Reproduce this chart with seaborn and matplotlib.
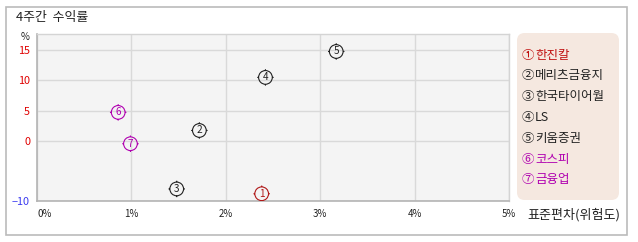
import numpy as np
import pandas as pd
import seaborn as sns
import matplotlib
matplotlib.use("Agg")
import matplotlib.pyplot as plt
from matplotlib.path import Path
from matplotlib.patches import FancyBboxPatch, Rectangle

# ---- data ----
labels = ["①", "②", "③", "④", "⑤", "⑥", "⑦"]
digits = ["1", "2", "3", "4", "5", "6", "7"]
names = ["한진칼", "메리츠금융지", "한국타이어월", "LS", "키움증권", "코스피", "금융업"]
risk = [2.38, 1.72, 1.48, 2.42, 3.17, 0.86, 0.99]       # 표준편차 (%)
ret = [-8.8, 1.7, -8.0, 10.5, 14.8, 4.7, -0.5]          # 4주간 수익률 (%)
colors = ["#B01818", "#222222", "#222222", "#222222", "#222222", "#B000B0", "#B000B0"]
legend_text_colors = ["#C01010", "#222222", "#222222", "#222222", "#222222", "#B000B0", "#B000B0"]
xticks = [0, 1, 2, 3, 4, 5]
xticklabels = ["0%", "1%", "2%", "3%", "4%", "5%"]
yticks = [-10, 0, 5, 10, 15]
yticklabels = ["−10", "0", "5", "10", "15"]
ytick_colors = ["#3A3AF0", "#E00000", "#E00000", "#E00000", "#E00000"]

sns.set_style("white")
plt.rcParams["font.family"] = ["Noto Sans CJK KR", "DejaVu Sans"]

W, H = 638, 242
fig = plt.figure(figsize=(W / 100, H / 100), dpi=100)

# outer frame
fig.patches.append(Rectangle((6 / W, 1 - 235 / H), (627 - 6) / W, (235 - 7) / H,
                             transform=fig.transFigure, fill=False,
                             edgecolor="#BBBBBB", linewidth=1.2))

fig.text(16 / W, 1 - 18 / H, "4주간  수익률", fontsize=9.3, color="#222222",
         va="center", ha="left")

left, right, top, bottom = 37, 509, 34, 201
ax = fig.add_axes([left / W, 1 - bottom / H, (right - left) / W, (bottom - top) / H])
ax.set_facecolor("#F4F4F4")

df = pd.DataFrame({"name": names, "risk": risk, "ret": ret})

# circle marker with small outward ticks
circ = Path.unit_circle()
verts = list(circ.vertices) + [(0, 1), (0, 1.2), (0, -1), (0, -1.2),
                               (1, 0), (1.2, 0), (-1, 0), (-1.2, 0)]
codes = list(circ.codes) + [Path.MOVETO, Path.LINETO] * 4
marker_path = Path(verts, codes)

sns.scatterplot(data=df, x="risk", y="ret", hue="name",
                palette=dict(zip(names, colors)), marker=marker_path,
                s=140, linewidth=0.8, legend=False, ax=ax, zorder=3)
coll = ax.collections[0]
fc = coll.get_facecolors()
coll.set_edgecolors(fc)
coll.set_facecolors("none")

for d, x, y, c in zip(digits, risk, ret, colors):
    ax.text(x, y, d, color=c, fontsize=7.2, ha="center", va="center", zorder=4)

ax.set_xlim(0, 5)
ax.set_ylim(-10, 17.7)
ax.set_xticks(xticks)
ax.set_xticklabels(xticklabels, fontsize=7, color="#222222")
ax.set_yticks(yticks)
ax.set_yticklabels(yticklabels, fontsize=7.8)
for t, c in zip(ax.get_yticklabels(), ytick_colors):
    t.set_color(c)
ax.get_xticklabels()[0].set_ha("left")
ax.tick_params(axis="both", length=0, pad=6)
ax.tick_params(axis="y", pad=5)
ax.set_xlabel("")
ax.set_ylabel("")
ax.set_axisbelow(True)
ax.grid(True, color="#D9D9D9", linewidth=1)
for side in ["top", "right"]:
    ax.spines[side].set_color("#D4D4D4")
    ax.spines[side].set_linewidth(1)
for side in ["left", "bottom"]:
    ax.spines[side].set_color("#B4B4B4")
    ax.spines[side].set_linewidth(1.2)

fig.text(25 / W, 1 - 37 / H, "%", fontsize=7, color="#222222", ha="center", va="center")
fig.text(527 / W, 1 - 215 / H, "표준편차(위험도)", fontsize=9.4, color="#222222",
         ha="left", va="center")

# legend panel
fig.patches.append(FancyBboxPatch((517 / W, 1 - 200 / H), (619 - 517) / W, (200 - 33) / H,
                                  boxstyle="round,pad=0,rounding_size=0.012",
                                  transform=fig.transFigure, facecolor="#F5E8E0",
                                  edgecolor="none", mutation_aspect=W / H))
for i, (lab, nm, c) in enumerate(zip(labels, names, legend_text_colors)):
    y = 55 + i * 20.8
    fig.text(522 / W, 1 - y / H, lab, fontsize=9, color=c, ha="left", va="center")
    fig.text(535 / W, 1 - y / H, nm, fontsize=9, color=c, ha="left", va="center")

fig.savefig("out.png", dpi=100)
